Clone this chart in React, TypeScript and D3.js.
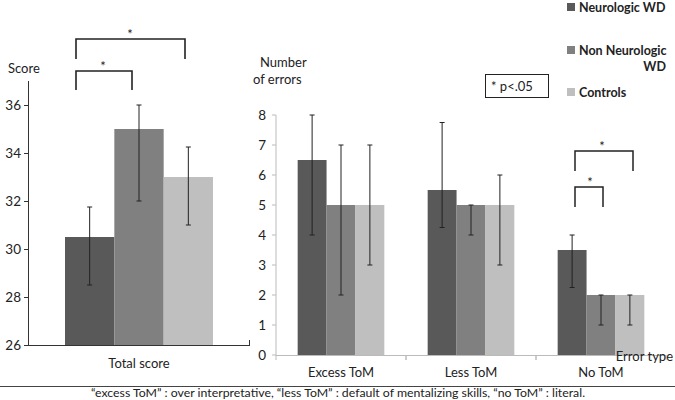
import React from "react";
import * as d3 from "d3";

const groups = ["Neurologic WD", "Non Neurologic WD", "Controls"];
const colors = ["#595959", "#808080", "#bfbfbf"];

const totalCategory = ["Total score"];
const totalValues = [30.5, 35, 33];
const totalLow = [28.5, 32, 31];
const totalHigh = [31.75, 36, 34.25];
const totalTicks = [26, 28, 30, 32, 34, 36];

const errCategories = ["Excess ToM", "Less ToM", "No ToM"];
const errValues = [
  [6.5, 5, 5],
  [5.5, 5, 5],
  [3.5, 2, 2],
];
const errLow = [
  [4, 2, 3],
  [4.25, 4, 3],
  [2.25, 1, 1],
];
const errHigh = [
  [8, 7, 7],
  [7.75, 5, 6],
  [4, 2, 2],
];
const errTicks = [0, 1, 2, 3, 4, 5, 6, 7, 8];

const FONT = "Lato, 'Open Sans', sans-serif";

export default function App() {
  const yL = d3.scaleLinear().domain([26, 36]).range([345, 105]);
  const xL = d3.scaleBand().domain(totalCategory).range([28, 250]).paddingInner(0).paddingOuter(0.25);
  const subL = d3.scaleBand().domain(groups).range([0, xL.bandwidth()]);
  const yR = d3.scaleLinear().domain([0, 8]).range([355, 115]);
  const xR = d3.scaleBand().domain(errCategories).range([276, 666]).paddingInner(0).paddingOuter(0);
  const barW = xR.bandwidth() / 4.5;
  const subR = d3.scaleBand().domain(groups).range([0, barW * 3]);
  const offR = barW * 0.75;

  const cap = 2.5;
  const lx0 = xL(totalCategory[0])!;
  const cxL = (i: number) => lx0 + subL(groups[i])! + subL.bandwidth() / 2;
  const cxR = (c: number, i: number) => xR(errCategories[c])! + offR + subR(groups[i])! + barW / 2;

  const tc = "#222";

  return (
    <svg width={675} height={400} style={{ position: "absolute", left: 0, top: 0, fontFamily: FONT }}>
      <rect width={675} height={400} fill="#fff" />
      {/* Left chart */}
      <text x={8} y={73} fontSize={13} fill={tc}>Score</text>
      {totalValues.map((v, i) => (
        <rect key={i} x={lx0 + subL(groups[i])!} y={yL(v)} width={subL.bandwidth()} height={yL(26) - yL(v)} fill={colors[i]} />
      ))}
      {totalValues.map((v, i) => (
        <g key={"e" + i} stroke="#222" strokeWidth={1}>
          <line x1={cxL(i)} x2={cxL(i)} y1={yL(totalLow[i])} y2={yL(totalHigh[i])} />
          <line x1={cxL(i) - cap} x2={cxL(i) + cap} y1={yL(totalLow[i])} y2={yL(totalLow[i])} />
          <line x1={cxL(i) - cap} x2={cxL(i) + cap} y1={yL(totalHigh[i])} y2={yL(totalHigh[i])} />
        </g>
      ))}
      <line x1={28.5} x2={28.5} y1={81} y2={345} stroke="#333" />
      <line x1={28} x2={250} y1={345.5} y2={345.5} stroke="#333" />
      <line x1={249.5} x2={249.5} y1={340} y2={345} stroke="#333" />
      {totalTicks.map((t) => (
        <g key={t}>
          <line x1={24} x2={28} y1={yL(t) + 0.5} y2={yL(t) + 0.5} stroke="#333" />
          <text x={21} y={yL(t) + 5} fontSize={13.5} textAnchor="end" fill={tc}>{t}</text>
        </g>
      ))}
      <text x={lx0 + xL.bandwidth() / 2} y={368} fontSize={13} textAnchor="middle" fill={tc}>{totalCategory[0]}</text>
      <path d={`M76,59 V39 H185 V59`} fill="none" stroke="#222" strokeWidth={1.6} />
      <text x={130} y={39} fontSize={13} textAnchor="middle" fill={tc}>*</text>
      <path d={`M76,90 V71 H132 V90`} fill="none" stroke="#222" strokeWidth={1.6} />
      <text x={103} y={71} fontSize={13} textAnchor="middle" fill={tc}>*</text>

      {/* Right chart */}
      <text x={260} y={67} fontSize={13} fill={tc}>Number</text>
      <text x={253} y={84} fontSize={13} fill={tc}>of errors</text>
      {errCategories.map((c, ci) =>
        errValues[ci].map((v, i) => (
          <rect key={c + i} x={xR(c)! + offR + subR(groups[i])!} y={yR(v)} width={barW} height={yR(0) - yR(v)} fill={colors[i]} />
        ))
      )}
      {errCategories.map((c, ci) =>
        errValues[ci].map((v, i) => {
          const x = cxR(ci, i);
          return (
            <g key={"e" + c + i} stroke="#222" strokeWidth={1}>
              <line x1={x} x2={x} y1={yR(errLow[ci][i])} y2={yR(errHigh[ci][i])} />
              <line x1={x - cap} x2={x + cap} y1={yR(errLow[ci][i])} y2={yR(errLow[ci][i])} />
              <line x1={x - cap} x2={x + cap} y1={yR(errHigh[ci][i])} y2={yR(errHigh[ci][i])} />
            </g>
          );
        })
      )}
      <line x1={276} x2={276} y1={115} y2={355} stroke="#bbb" />
      <line x1={276} x2={666} y1={355.5} y2={355.5} stroke="#bbb" />
      {errTicks.map((t) => (
        <g key={t}>
          <line x1={272} x2={276} y1={yR(t)} y2={yR(t)} stroke="#bbb" />
          <text x={266} y={yR(t) + 5} fontSize={13.5} textAnchor="end" fill={tc}>{t}</text>
        </g>
      ))}
      {errCategories.map((c) => (
        <g key={"t" + c}>
          <line x1={xR(c)!} x2={xR(c)!} y1={355} y2={360} stroke="#bbb" />
          <line x1={xR(c)! + xR.bandwidth()} x2={xR(c)! + xR.bandwidth()} y1={355} y2={360} stroke="#bbb" />
          <text x={xR(c)! + xR.bandwidth() / 2} y={377} fontSize={13} textAnchor="middle" fill={tc}>{c}</text>
        </g>
      ))}
      <text x={673} y={361} fontSize={13} textAnchor="end" fill={tc}>Error type</text>
      <path d={`M575,171 V151 H633 V171`} fill="none" stroke="#222" strokeWidth={1.5} />
      <text x={602} y={151} fontSize={13} textAnchor="middle" fill={tc}>*</text>
      <path d={`M575,207 V187 H603 V207`} fill="none" stroke="#222" strokeWidth={1.5} />
      <text x={590} y={187} fontSize={13} textAnchor="middle" fill={tc}>*</text>
      <rect x={485.5} y={74.5} width={63} height={23} fill="#fff" stroke="#222" />
      <text x={491} y={91} fontSize={13} fill={tc}>* p&lt;.05</text>
      {/* Legend */}
      <rect x={567} y={3} width={8} height={8} fill={colors[0]} />
      <text x={579} y={12} fontSize={12.5} fontWeight="bold" fill={tc}>Neurologic WD</text>
      <rect x={567} y={46} width={8} height={8} fill={colors[1]} />
      <text x={579} y={55} fontSize={12.5} fontWeight="bold" fill={tc}>Non Neurologic</text>
      <text x={666} y={71} fontSize={12.5} fontWeight="bold" textAnchor="end" fill={tc}>WD</text>
      <rect x={567} y={88} width={8} height={8} fill={colors[2]} />
      <text x={579} y={97} fontSize={12.5} fontWeight="bold" fill={tc}>Controls</text>
      {/* Caption */}
      <line x1={0} x2={675} y1={386.5} y2={386.5} stroke="#444" />
      <text x={338} y={397} fontSize={12.3} textAnchor="middle" fill={tc}>
        “excess ToM” : over interpretative, “less ToM” : default of mentalizing skills, “no ToM” : literal.
      </text>
    </svg>
  );
}
